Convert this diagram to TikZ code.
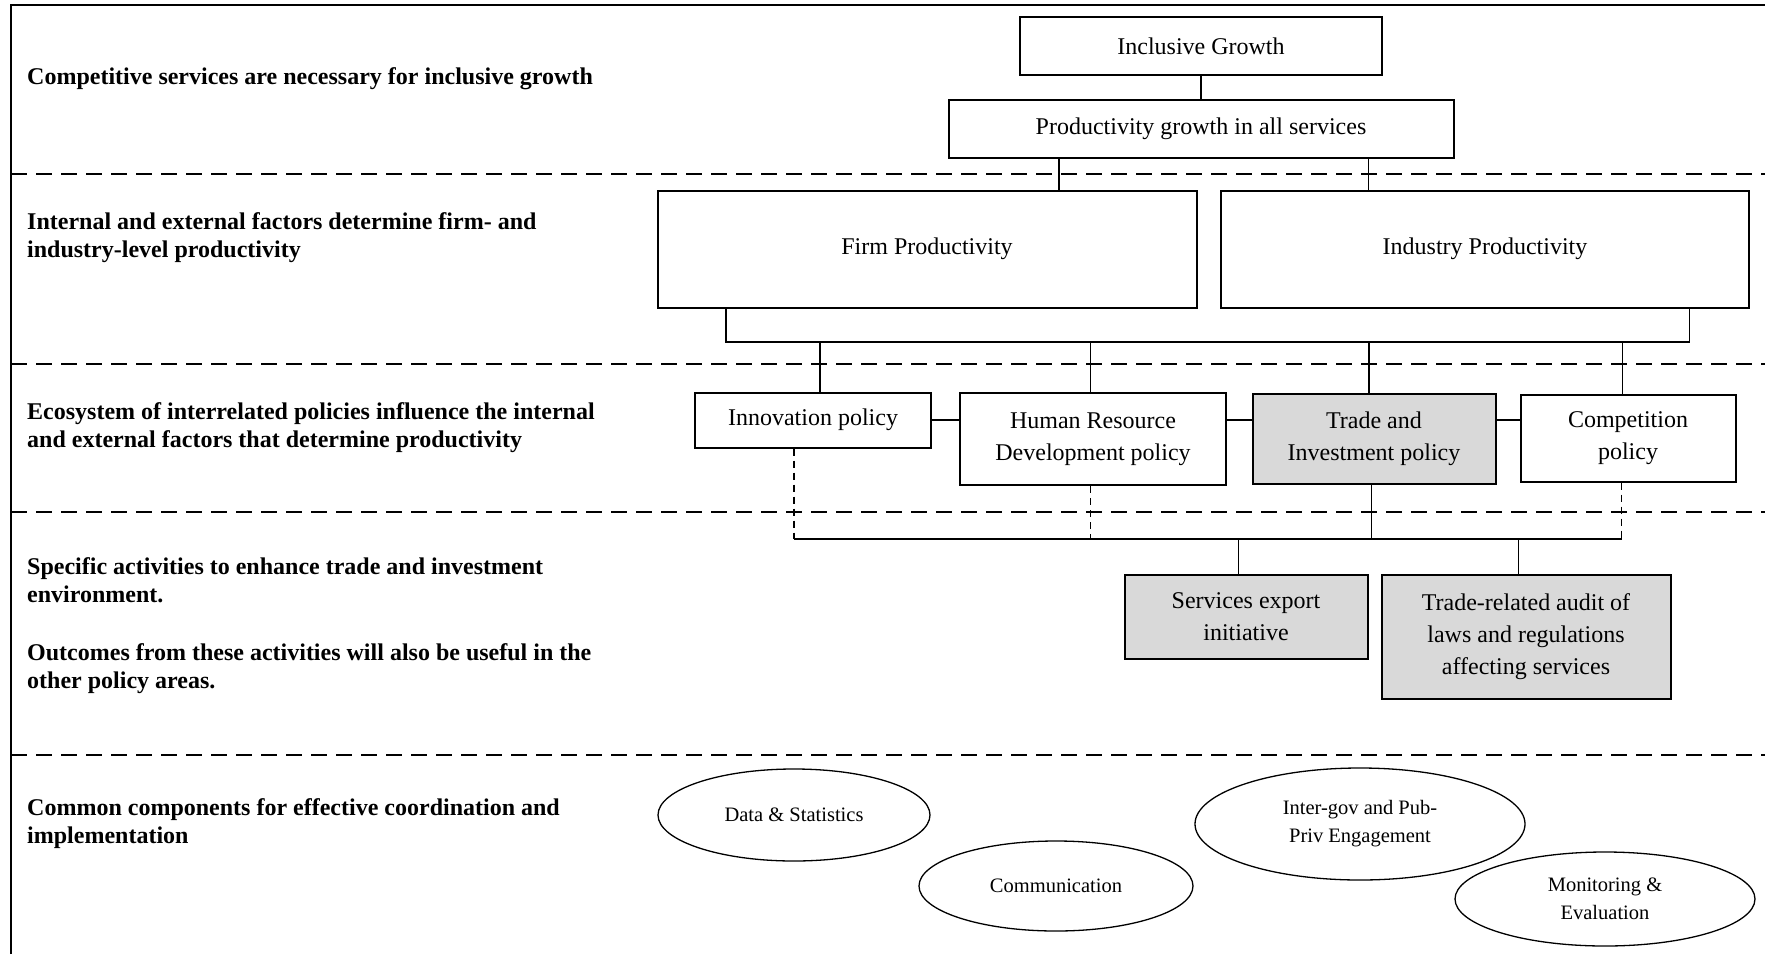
\documentclass[tikz,border=0pt]{standalone}
\usepackage{fontspec}
\setmainfont{Liberation Serif}
\usetikzlibrary{positioning,shapes.geometric,calc}
\definecolor{shade}{HTML}{D9D9D9}

\begin{document}
\begin{tikzpicture}[x=1pt,y=-1pt,
    box/.style={draw,line width=2pt,inner sep=0pt,align=center,font=\fontsize{24}{32}\selectfont},
    greybox/.style={box,fill=shade},
    oval/.style={draw,ellipse,line width=1.3pt,inner sep=0pt,align=center,font=\fontsize{20.5}{28}\selectfont},
    lbl/.style={anchor=west,align=left,inner sep=0pt,font=\fontsize{24}{28}\selectfont\bfseries},
    sep/.style={line width=2pt,dash pattern=on 16pt off 9pt},
    link/.style={line width=1.5pt},
    dlink/.style={link,dash pattern=on 7pt off 5pt}]
  \useasboundingbox (0,0) rectangle (1765,954);
  \draw[line width=2pt] (11,954) -- (11,5) -- (1765,5);
  \foreach \y in {174,364,512,755}
    \draw[sep] (11,\y) -- (1765,\y);

  \node[lbl] (l1) at (27,79) {Competitive services are necessary for inclusive growth};
  \node[lbl] (l2) at (27,238) {Internal and external factors determine firm- and\\industry-level productivity};
  \node[lbl] (l3) at (27,428) {Ecosystem of interrelated policies influence the internal\\and external factors that determine productivity};
  \node[lbl] (l4) at (27,580) {Specific activities to enhance trade and investment\\environment.};
  \node[lbl] (l5) at (27,669) {Outcomes from these activities will also be useful in the\\other policy areas.};
  \node[lbl] (l6) at (27,824) {Common components for effective coordination and\\implementation};

  \node[box,minimum width=362,minimum height=58] (ig) at (1201,46) {Inclusive Growth};
  \node[box,minimum width=505,minimum height=58] (pg) at (1201,129) {Productivity growth in all services};
  \node[box,minimum width=539,minimum height=117] (firm) at (927,249) {Firm Productivity};
  \node[box,minimum width=528,minimum height=117] (ind) at (1485,249) {Industry Productivity};

  \node[box,minimum width=236,minimum height=55] (inno) at (813,420) {Innovation policy};
  \node[box,minimum width=266,minimum height=92] (hrd) at (1093,439) {Human Resource\\Development policy};
  \node[greybox,minimum width=243,minimum height=90] (trade) at (1374,439) {Trade and\\Investment policy};
  \node[box,minimum width=215,minimum height=87] (comp) at (1628,438) {Competition\\policy};

  \node[greybox,minimum width=243,minimum height=84] (sei) at (1246,617) {Services export\\initiative};
  \node[greybox,minimum width=289,minimum height=124] (audit) at (1526,637) {Trade-related audit of\\laws and regulations\\affecting services};

  \node[oval,minimum width=272,minimum height=92] (data) at (794,815) {Data \& Statistics};
  \node[oval,minimum width=274,minimum height=90] (comm) at (1056,886) {Communication};
  \node[oval,minimum width=330,minimum height=112] (inter) at (1360,824) {Inter-gov and Pub-\\Priv Engagement};
  \node[oval,minimum width=300,minimum height=94] (mon) at (1605,899) {Monitoring \&\\Evaluation};

  \draw[link] (ig) -- (pg);
  \draw[link] ($(pg.south west)!0.22!(pg.south east)$) coordinate (p1) -- (p1 |- firm.north);
  \draw[link] ($(pg.south west)!0.83!(pg.south east)$) coordinate (p2) -- (p2 |- ind.north);

  \coordinate (busy) at (0,342);
  \coordinate (f1) at ($(firm.south west)!0.128!(firm.south east)$);
  \coordinate (i1) at ($(ind.south west)!0.886!(ind.south east)$);
  \draw[link] (f1) |- (i1 |- busy) -- (i1);
  \coordinate (t1) at ($(inno.north west)!0.53!(inno.north east)$);
  \coordinate (t2) at ($(hrd.north west)!0.49!(hrd.north east)$);
  \coordinate (t3) at ($(trade.north west)!0.48!(trade.north east)$);
  \coordinate (t4) at ($(comp.north west)!0.475!(comp.north east)$);
  \foreach \t in {t1,t2,t3,t4}
    \draw[link] (\t |- busy) -- (\t);

  \draw[link] (inno.east) -- (inno.east -| hrd.west);
  \draw[link] (inno.east -| hrd.east) -- (inno.east -| trade.west);
  \draw[link] (inno.east -| trade.east) -- (inno.east -| comp.west);

  \coordinate (lbus) at (0,539);
  \coordinate (d1) at ($(inno.south west)!0.42!(inno.south east)$);
  \coordinate (d2) at ($(hrd.south west)!0.49!(hrd.south east)$);
  \coordinate (d3) at ($(trade.south west)!0.49!(trade.south east)$);
  \coordinate (d4) at ($(comp.south west)!0.47!(comp.south east)$);
  \draw[dlink] (d1) -- (d1 |- lbus);
  \draw[dlink] (d2) -- (d2 |- lbus);
  \draw[dlink] (d4) -- (d4 |- lbus);
  \draw[link] (d3) -- (d3 |- lbus);
  \draw[link] (d1 |- lbus) -- (d4 |- lbus);
  \coordinate (s1) at ($(sei.north west)!0.47!(sei.north east)$);
  \coordinate (s2) at ($(audit.north west)!0.474!(audit.north east)$);
  \draw[link] (s1 |- lbus) -- (s1);
  \draw[link] (s2 |- lbus) -- (s2);
\end{tikzpicture}
\end{document}
